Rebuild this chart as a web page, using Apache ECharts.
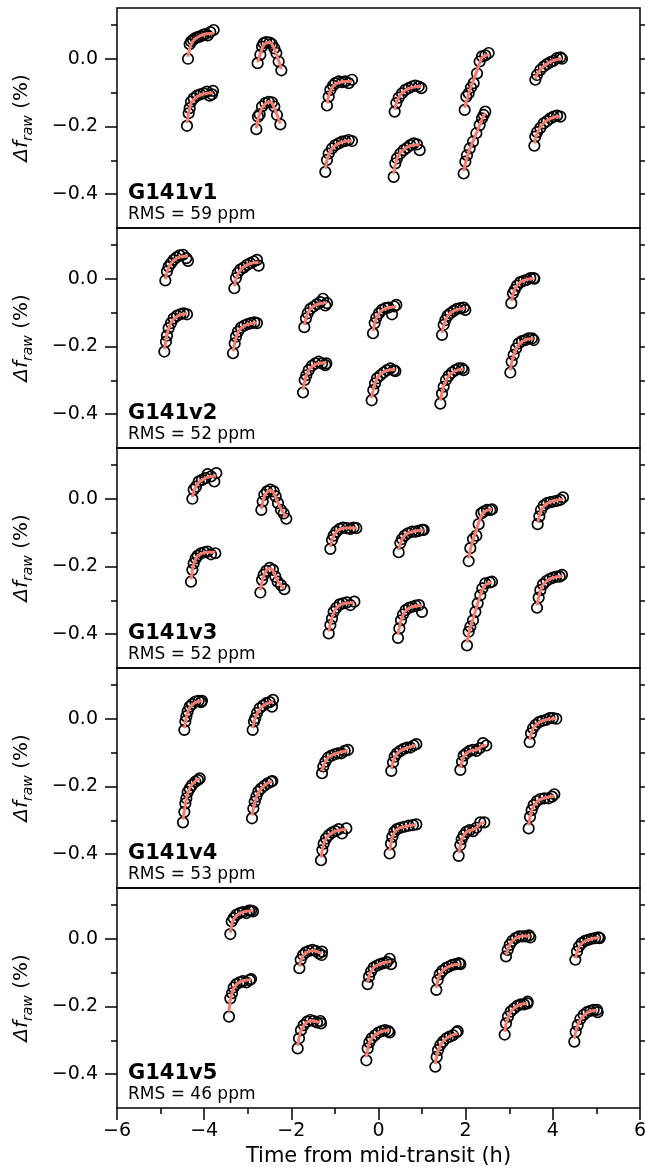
<!DOCTYPE html>
<html>
<head>
<meta charset="utf-8">
<script src="https://cdn.jsdelivr.net/npm/echarts@6/dist/echarts.min.js"></script>
<style>
  html, body { margin: 0; padding: 0; background: #fff; }
  #chart { width: 645px; height: 1167px; }
</style>
</head>
<body>
<div id="chart"></div>
<script>
// White-light raw flux, five G141 visits; two scan directions per visit,
// each HST orbit listed as one array of times (h), raw flux (%) and fitted model (%).

const panelNames = ['G141v1', 'G141v2', 'G141v3', 'G141v4', 'G141v5'];
const rmsPpm = [59, 52, 52, 53, 46];
const yMajorTicks = [-0.4, -0.2, 0.0];
const yMinorTicks = [-0.3, -0.1, 0.1];

const v1Time = [
  [-4.371,-4.333,-4.302,-4.256,-4.203,-4.149,-4.088,-4.027,-3.973,-3.920,-3.859,-3.782],
  [-4.394,-4.356,-4.333,-4.302,-4.241,-4.164,-4.088,-4.011,-3.935,-3.874,-3.820,-3.797],
  [-2.773,-2.711,-2.673,-2.635,-2.574,-2.497,-2.444,-2.390,-2.344,-2.291,-2.229],
  [-2.803,-2.765,-2.727,-2.673,-2.597,-2.520,-2.444,-2.390,-2.329,-2.252],
  [-1.182,-1.143,-1.105,-1.044,-0.990,-0.914,-0.837,-0.761,-0.685,-0.608],
  [-1.220,-1.182,-1.143,-1.067,-0.990,-0.914,-0.837,-0.761,-0.685,-0.608],
  [0.371,0.409,0.463,0.539,0.616,0.692,0.769,0.845,0.922,0.983],
  [0.348,0.386,0.424,0.501,0.577,0.654,0.730,0.807,0.883,0.945],
  [1.977,2.015,2.069,2.122,2.183,2.260,2.321,2.375,2.451,2.528],
  [1.954,1.992,2.030,2.092,2.168,2.245,2.321,2.375,2.413,2.451],
  [3.598,3.637,3.713,3.790,3.866,3.943,4.019,4.096,4.172,4.210],
  [3.576,3.598,3.637,3.713,3.790,3.866,3.943,4.019,4.096,4.172]
];
const v1Flux = [
  [0.000,0.043,0.051,0.056,0.061,0.064,0.066,0.071,0.073,0.069,0.079,0.085],
  [-0.198,-0.161,-0.146,-0.127,-0.117,-0.109,-0.105,-0.102,-0.097,-0.109,-0.105,-0.095],
  [-0.013,0.012,0.036,0.046,0.049,0.048,0.043,0.031,0.017,-0.008,-0.034],
  [-0.208,-0.171,-0.164,-0.141,-0.131,-0.127,-0.129,-0.141,-0.166,-0.194],
  [-0.138,-0.112,-0.092,-0.079,-0.072,-0.067,-0.069,-0.067,-0.072,-0.062],
  [-0.334,-0.299,-0.280,-0.265,-0.255,-0.250,-0.245,-0.243,-0.240,-0.243],
  [-0.156,-0.131,-0.115,-0.102,-0.092,-0.087,-0.082,-0.079,-0.082,-0.087],
  [-0.349,-0.309,-0.294,-0.280,-0.270,-0.263,-0.255,-0.250,-0.253,-0.270],
  [-0.151,-0.112,-0.102,-0.085,-0.072,-0.043,-0.008,0.007,0.010,0.017],
  [-0.339,-0.304,-0.285,-0.265,-0.245,-0.220,-0.196,-0.176,-0.166,-0.156],
  [-0.062,-0.048,-0.033,-0.023,-0.016,-0.010,-0.006,0.002,0.004,0.000],
  [-0.257,-0.230,-0.217,-0.204,-0.191,-0.184,-0.176,-0.171,-0.168,-0.171]
];
const v1Model = [
  [0.006,0.030,0.042,0.052,0.059,0.064,0.068,0.071,0.073,0.074,0.075,0.076],
  [-0.190,-0.160,-0.146,-0.132,-0.120,-0.112,-0.107,-0.104,-0.102,-0.101,-0.101,-0.101],
  [-0.010,0.015,0.030,0.040,0.047,0.049,0.044,0.030,0.014,-0.006,-0.030],
  [-0.205,-0.180,-0.162,-0.145,-0.133,-0.127,-0.130,-0.145,-0.165,-0.192],
  [-0.132,-0.110,-0.095,-0.082,-0.075,-0.070,-0.068,-0.067,-0.067,-0.067],
  [-0.325,-0.300,-0.283,-0.265,-0.256,-0.250,-0.246,-0.244,-0.243,-0.242],
  [-0.150,-0.130,-0.114,-0.101,-0.093,-0.088,-0.085,-0.083,-0.082,-0.082],
  [-0.340,-0.312,-0.295,-0.278,-0.268,-0.261,-0.257,-0.255,-0.254,-0.254],
  [-0.145,-0.125,-0.103,-0.083,-0.062,-0.035,-0.012,0.004,0.010,0.012],
  [-0.332,-0.310,-0.292,-0.268,-0.244,-0.220,-0.196,-0.180,-0.169,-0.160],
  [-0.060,-0.046,-0.032,-0.022,-0.015,-0.009,-0.005,-0.002,0.000,0.001],
  [-0.250,-0.236,-0.220,-0.202,-0.190,-0.182,-0.177,-0.173,-0.171,-0.170]
];

const v2Time = [
  [-4.891,-4.853,-4.815,-4.761,-4.700,-4.639,-4.562,-4.486,-4.409,-4.371],
  [-4.914,-4.876,-4.853,-4.815,-4.761,-4.700,-4.623,-4.547,-4.470,-4.394],
  [-3.308,-3.270,-3.231,-3.170,-3.094,-3.017,-2.941,-2.864,-2.788,-2.750],
  [-3.338,-3.300,-3.270,-3.224,-3.155,-3.078,-3.002,-2.925,-2.849,-2.788],
  [-1.702,-1.664,-1.625,-1.564,-1.488,-1.411,-1.335,-1.273,-1.220,-1.182],
  [-1.732,-1.694,-1.656,-1.602,-1.526,-1.449,-1.373,-1.296,-1.220,-1.197],
  [-0.126,-0.088,-0.050,0.011,0.080,0.157,0.233,0.310,0.363,0.409],
  [-0.157,-0.119,-0.080,-0.034,0.042,0.119,0.195,0.272,0.348,0.386],
  [1.457,1.495,1.534,1.587,1.648,1.725,1.801,1.878,1.954,1.992],
  [1.419,1.457,1.495,1.549,1.610,1.686,1.763,1.839,1.916,1.954],
  [3.048,3.086,3.124,3.178,3.254,3.331,3.407,3.484,3.560,3.576],
  [3.025,3.055,3.101,3.155,3.216,3.292,3.369,3.445,3.522,3.560]
];
const v2Flux = [
  [-0.005,0.022,0.036,0.046,0.056,0.063,0.069,0.071,0.061,0.053],
  [-0.215,-0.186,-0.168,-0.146,-0.131,-0.117,-0.109,-0.105,-0.102,-0.105],
  [-0.028,0.002,0.017,0.027,0.033,0.041,0.046,0.051,0.056,0.039],
  [-0.220,-0.191,-0.171,-0.156,-0.144,-0.138,-0.134,-0.131,-0.129,-0.131],
  [-0.143,-0.117,-0.102,-0.089,-0.082,-0.075,-0.069,-0.059,-0.079,-0.072],
  [-0.336,-0.299,-0.285,-0.270,-0.257,-0.250,-0.245,-0.250,-0.255,-0.250],
  [-0.161,-0.131,-0.115,-0.102,-0.092,-0.087,-0.085,-0.105,-0.082,-0.077],
  [-0.359,-0.329,-0.309,-0.294,-0.285,-0.277,-0.270,-0.265,-0.270,-0.273],
  [-0.166,-0.136,-0.122,-0.109,-0.102,-0.095,-0.089,-0.087,-0.085,-0.092],
  [-0.369,-0.339,-0.319,-0.299,-0.287,-0.277,-0.270,-0.265,-0.265,-0.270],
  [-0.072,-0.043,-0.033,-0.020,-0.010,-0.006,-0.003,0.002,0.002,0.000],
  [-0.277,-0.245,-0.225,-0.206,-0.191,-0.184,-0.181,-0.176,-0.176,-0.181]
];
const v2Model = [
  [-0.002,0.020,0.034,0.046,0.054,0.060,0.064,0.066,0.067,0.067],
  [-0.208,-0.180,-0.165,-0.147,-0.130,-0.119,-0.111,-0.106,-0.104,-0.103],
  [-0.022,0.000,0.013,0.026,0.035,0.041,0.045,0.047,0.048,0.048],
  [-0.214,-0.190,-0.174,-0.158,-0.146,-0.139,-0.135,-0.132,-0.131,-0.130],
  [-0.137,-0.116,-0.102,-0.090,-0.081,-0.076,-0.073,-0.072,-0.071,-0.071],
  [-0.328,-0.302,-0.285,-0.270,-0.259,-0.253,-0.250,-0.249,-0.248,-0.248],
  [-0.155,-0.132,-0.116,-0.102,-0.093,-0.088,-0.085,-0.084,-0.083,-0.083],
  [-0.352,-0.326,-0.308,-0.294,-0.282,-0.275,-0.271,-0.269,-0.268,-0.268],
  [-0.160,-0.138,-0.123,-0.110,-0.101,-0.095,-0.091,-0.089,-0.088,-0.088],
  [-0.360,-0.336,-0.318,-0.300,-0.287,-0.278,-0.272,-0.269,-0.267,-0.267],
  [-0.066,-0.046,-0.032,-0.020,-0.010,-0.005,-0.002,0.000,0.001,0.001],
  [-0.270,-0.248,-0.226,-0.207,-0.194,-0.186,-0.181,-0.178,-0.177,-0.177]
];

const v3Time = [
  [-4.271,-4.241,-4.187,-4.126,-4.050,-3.973,-3.920,-3.843,-3.767,-3.721],
  [-4.302,-4.271,-4.241,-4.195,-4.149,-4.073,-3.996,-3.920,-3.843,-3.744],
  [-2.688,-2.658,-2.620,-2.558,-2.482,-2.405,-2.359,-2.306,-2.237,-2.176,-2.115],
  [-2.711,-2.673,-2.635,-2.574,-2.497,-2.421,-2.367,-2.314,-2.237,-2.161],
  [-1.105,-1.067,-1.029,-0.968,-0.891,-0.815,-0.723,-0.646,-0.570,-0.509],
  [-1.143,-1.105,-1.067,-1.029,-0.968,-0.891,-0.815,-0.723,-0.646,-0.554],
  [0.463,0.501,0.539,0.600,0.677,0.769,0.845,0.922,0.998,1.036],
  [0.447,0.478,0.516,0.562,0.623,0.700,0.776,0.853,0.929,0.998],
  [2.069,2.107,2.168,2.245,2.298,2.359,2.413,2.489,2.566,2.604],
  [2.030,2.069,2.107,2.168,2.222,2.275,2.336,2.382,2.451,2.551,2.604],
  [3.652,3.690,3.729,3.790,3.866,3.943,4.019,4.096,4.172,4.233],
  [3.637,3.675,3.713,3.774,3.851,3.927,4.004,4.080,4.157,4.210]
];
const v3Flux = [
  [0.000,0.027,0.036,0.051,0.056,0.061,0.073,0.066,0.051,0.076],
  [-0.245,-0.210,-0.191,-0.176,-0.168,-0.161,-0.158,-0.156,-0.164,-0.161],
  [-0.033,-0.008,0.012,0.022,0.027,0.022,0.007,-0.013,-0.033,-0.043,-0.059],
  [-0.277,-0.240,-0.225,-0.213,-0.204,-0.210,-0.230,-0.245,-0.255,-0.267],
  [-0.148,-0.122,-0.109,-0.097,-0.089,-0.085,-0.087,-0.089,-0.085,-0.087],
  [-0.398,-0.373,-0.354,-0.334,-0.322,-0.312,-0.309,-0.306,-0.314,-0.304],
  [-0.158,-0.131,-0.119,-0.109,-0.102,-0.097,-0.097,-0.095,-0.092,-0.092],
  [-0.411,-0.383,-0.359,-0.342,-0.329,-0.322,-0.319,-0.316,-0.314,-0.334],
  [-0.184,-0.146,-0.119,-0.109,-0.075,-0.043,-0.038,-0.033,-0.033,-0.031],
  [-0.433,-0.393,-0.378,-0.359,-0.334,-0.309,-0.285,-0.265,-0.250,-0.247,-0.245],
  [-0.075,-0.052,-0.033,-0.020,-0.013,-0.010,-0.008,-0.006,-0.003,0.004],
  [-0.322,-0.292,-0.270,-0.253,-0.243,-0.237,-0.233,-0.230,-0.230,-0.225]
];
const v3Model = [
  [0.005,0.022,0.037,0.048,0.056,0.061,0.064,0.066,0.067,0.067],
  [-0.238,-0.212,-0.193,-0.178,-0.169,-0.162,-0.159,-0.158,-0.158,-0.158],
  [-0.030,-0.010,0.008,0.020,0.026,0.018,0.004,-0.012,-0.030,-0.043,-0.055],
  [-0.270,-0.245,-0.227,-0.212,-0.205,-0.212,-0.228,-0.243,-0.256,-0.266],
  [-0.142,-0.122,-0.109,-0.097,-0.090,-0.087,-0.086,-0.086,-0.086,-0.086],
  [-0.392,-0.370,-0.352,-0.337,-0.323,-0.314,-0.310,-0.308,-0.307,-0.307],
  [-0.152,-0.132,-0.119,-0.108,-0.101,-0.097,-0.095,-0.094,-0.093,-0.093],
  [-0.402,-0.380,-0.360,-0.344,-0.331,-0.323,-0.319,-0.317,-0.316,-0.316],
  [-0.176,-0.150,-0.120,-0.092,-0.070,-0.050,-0.040,-0.034,-0.032,-0.031],
  [-0.425,-0.400,-0.380,-0.355,-0.332,-0.309,-0.285,-0.268,-0.254,-0.248,-0.247],
  [-0.070,-0.050,-0.035,-0.022,-0.014,-0.009,-0.006,-0.004,-0.003,-0.002],
  [-0.315,-0.290,-0.272,-0.255,-0.244,-0.237,-0.233,-0.231,-0.229,-0.229]
];

const v4Time = [
  [-4.455,-4.432,-4.409,-4.379,-4.333,-4.279,-4.203,-4.126,-4.073,-4.050],
  [-4.486,-4.455,-4.432,-4.409,-4.379,-4.333,-4.279,-4.203,-4.142,-4.103],
  [-2.887,-2.857,-2.826,-2.788,-2.727,-2.650,-2.574,-2.497,-2.444,-2.421],
  [-2.903,-2.872,-2.841,-2.803,-2.757,-2.696,-2.620,-2.543,-2.467,-2.436],
  [-1.296,-1.266,-1.220,-1.159,-1.082,-1.006,-0.929,-0.853,-0.776,-0.700],
  [-1.319,-1.289,-1.258,-1.205,-1.143,-1.067,-0.990,-0.914,-0.837,-0.738],
  [0.294,0.333,0.371,0.424,0.501,0.577,0.654,0.730,0.807,0.868],
  [0.256,0.287,0.317,0.363,0.424,0.501,0.593,0.692,0.791,0.868],
  [1.878,1.916,1.954,2.015,2.092,2.168,2.245,2.321,2.398,2.474],
  [1.839,1.878,1.908,1.954,2.015,2.092,2.168,2.245,2.336,2.428],
  [3.468,3.499,3.545,3.606,3.682,3.759,3.851,3.927,4.004,4.080],
  [3.445,3.476,3.514,3.560,3.637,3.713,3.805,3.904,3.981,4.034]
];
const v4Flux = [
  [-0.033,-0.008,0.007,0.022,0.036,0.043,0.051,0.053,0.049,0.053],
  [-0.306,-0.275,-0.250,-0.235,-0.217,-0.206,-0.196,-0.186,-0.181,-0.176],
  [-0.033,-0.008,0.002,0.017,0.031,0.039,0.046,0.049,0.036,0.056],
  [-0.294,-0.265,-0.245,-0.230,-0.215,-0.206,-0.198,-0.191,-0.186,-0.184],
  [-0.161,-0.141,-0.127,-0.115,-0.109,-0.105,-0.102,-0.102,-0.095,-0.092],
  [-0.418,-0.388,-0.369,-0.354,-0.344,-0.336,-0.332,-0.326,-0.339,-0.324],
  [-0.154,-0.129,-0.112,-0.102,-0.095,-0.089,-0.085,-0.085,-0.079,-0.075],
  [-0.398,-0.369,-0.349,-0.334,-0.326,-0.322,-0.319,-0.316,-0.314,-0.312],
  [-0.151,-0.127,-0.109,-0.102,-0.095,-0.092,-0.095,-0.087,-0.072,-0.079],
  [-0.405,-0.373,-0.356,-0.344,-0.334,-0.329,-0.332,-0.322,-0.306,-0.306],
  [-0.069,-0.043,-0.028,-0.018,-0.010,-0.006,-0.003,0.002,0.002,0.000],
  [-0.324,-0.290,-0.270,-0.255,-0.243,-0.237,-0.235,-0.235,-0.230,-0.223]
];
const v4Model = [
  [-0.028,-0.010,0.005,0.019,0.032,0.041,0.048,0.052,0.053,0.054],
  [-0.298,-0.272,-0.253,-0.237,-0.221,-0.205,-0.194,-0.184,-0.179,-0.177],
  [-0.028,-0.010,0.003,0.015,0.028,0.038,0.044,0.048,0.050,0.050],
  [-0.286,-0.265,-0.248,-0.232,-0.219,-0.207,-0.197,-0.190,-0.186,-0.185],
  [-0.155,-0.140,-0.126,-0.115,-0.108,-0.104,-0.101,-0.098,-0.096,-0.094],
  [-0.410,-0.388,-0.370,-0.355,-0.344,-0.337,-0.332,-0.330,-0.328,-0.327],
  [-0.148,-0.128,-0.114,-0.103,-0.095,-0.090,-0.086,-0.083,-0.080,-0.078],
  [-0.390,-0.368,-0.350,-0.336,-0.327,-0.322,-0.319,-0.316,-0.314,-0.313],
  [-0.145,-0.126,-0.112,-0.102,-0.096,-0.093,-0.092,-0.086,-0.078,-0.080],
  [-0.396,-0.374,-0.358,-0.345,-0.335,-0.330,-0.328,-0.322,-0.310,-0.306],
  [-0.062,-0.045,-0.030,-0.019,-0.011,-0.006,-0.003,-0.001,0.000,0.001],
  [-0.315,-0.290,-0.272,-0.258,-0.245,-0.238,-0.234,-0.231,-0.229,-0.228]
];

const v5Time = [
  [-3.400,-3.369,-3.323,-3.262,-3.185,-3.109,-3.033,-2.971,-2.925,-2.880],
  [-3.430,-3.400,-3.361,-3.323,-3.262,-3.185,-3.109,-3.033,-2.956,-2.925],
  [-1.816,-1.786,-1.732,-1.671,-1.595,-1.518,-1.442,-1.365,-1.304,-1.296],
  [-1.855,-1.824,-1.778,-1.717,-1.641,-1.564,-1.488,-1.411,-1.335,-1.319],
  [-0.249,-0.218,-0.172,-0.111,-0.034,0.042,0.119,0.195,0.256,0.287],
  [-0.279,-0.249,-0.211,-0.157,-0.080,-0.004,0.073,0.149,0.226,0.256],
  [1.327,1.357,1.403,1.465,1.541,1.618,1.694,1.771,1.847,1.878],
  [1.304,1.335,1.365,1.419,1.480,1.557,1.633,1.709,1.786,1.816],
  [2.925,2.964,3.010,3.071,3.147,3.224,3.300,3.377,3.453,3.484],
  [2.895,2.925,2.971,3.033,3.109,3.185,3.262,3.338,3.415,3.423],
  [4.516,4.554,4.600,4.662,4.738,4.815,4.891,4.968,5.044,5.075],
  [4.493,4.524,4.570,4.631,4.707,4.784,4.860,4.937,5.013,5.029]
];
const v5Flux = [
  [0.014,0.051,0.061,0.071,0.076,0.079,0.076,0.083,0.083,0.081],
  [-0.230,-0.176,-0.161,-0.144,-0.134,-0.129,-0.125,-0.129,-0.122,-0.119],
  [-0.087,-0.062,-0.048,-0.040,-0.036,-0.033,-0.036,-0.043,-0.048,-0.038],
  [-0.324,-0.294,-0.270,-0.255,-0.245,-0.240,-0.243,-0.247,-0.243,-0.250],
  [-0.134,-0.112,-0.097,-0.085,-0.079,-0.075,-0.072,-0.069,-0.059,-0.075],
  [-0.359,-0.324,-0.306,-0.294,-0.285,-0.277,-0.273,-0.270,-0.273,-0.277],
  [-0.151,-0.122,-0.105,-0.095,-0.087,-0.082,-0.077,-0.075,-0.072,-0.075],
  [-0.378,-0.349,-0.329,-0.314,-0.304,-0.294,-0.289,-0.285,-0.277,-0.273],
  [-0.052,-0.033,-0.018,-0.006,0.002,0.007,0.007,0.007,0.010,0.004],
  [-0.283,-0.250,-0.230,-0.215,-0.206,-0.198,-0.194,-0.194,-0.191,-0.186],
  [-0.062,-0.038,-0.023,-0.013,-0.006,-0.003,0.000,0.002,0.004,0.002],
  [-0.304,-0.275,-0.255,-0.237,-0.225,-0.217,-0.213,-0.210,-0.210,-0.217]
];
const v5Model = [
  [0.018,0.042,0.058,0.068,0.075,0.079,0.081,0.082,0.083,0.083],
  [-0.215,-0.180,-0.160,-0.146,-0.135,-0.128,-0.124,-0.122,-0.121,-0.120],
  [-0.082,-0.064,-0.050,-0.042,-0.037,-0.035,-0.036,-0.040,-0.043,-0.043],
  [-0.316,-0.292,-0.271,-0.256,-0.246,-0.242,-0.243,-0.245,-0.246,-0.246],
  [-0.128,-0.110,-0.096,-0.085,-0.078,-0.074,-0.071,-0.069,-0.068,-0.068],
  [-0.350,-0.326,-0.308,-0.294,-0.284,-0.278,-0.274,-0.272,-0.271,-0.271],
  [-0.145,-0.124,-0.107,-0.095,-0.087,-0.082,-0.078,-0.076,-0.075,-0.075],
  [-0.370,-0.348,-0.331,-0.315,-0.303,-0.294,-0.288,-0.284,-0.281,-0.280],
  [-0.048,-0.032,-0.018,-0.006,0.002,0.006,0.008,0.008,0.008,0.008],
  [-0.275,-0.252,-0.232,-0.216,-0.205,-0.198,-0.194,-0.192,-0.191,-0.191],
  [-0.058,-0.040,-0.025,-0.014,-0.007,-0.003,0.000,0.002,0.003,0.003],
  [-0.295,-0.275,-0.255,-0.239,-0.227,-0.219,-0.214,-0.212,-0.211,-0.211]
];

const visitTimes = [v1Time, v2Time, v3Time, v4Time, v5Time];
const visitFlux = [v1Flux, v2Flux, v3Flux, v4Flux, v5Flux];
const visitModel = [v1Model, v2Model, v3Model, v4Model, v5Model];

// ---- layout ----
const FONT = 'DejaVu Sans';
const LEFT = 117, RIGHT = 5, TOP = 8, PANEL_H = 220;
const MODEL_COLOR = '#f47c6e';
const TICK_STYLE = { color: '#000', width: 1.5 };

function minusFix(s) { return s.replace('-', '\u2212'); }
function yFmt(v) { return Math.abs(v) < 1e-9 ? '0.0' : minusFix(v.toFixed(1)); }

const grids = [], xAxes = [], yAxes = [], series = [], graphics = [];

panelNames.forEach((name, i) => {
  const top = TOP + i * PANEL_H;
  const last = i === panelNames.length - 1;
  grids.push({
    left: LEFT, right: RIGHT, top: top, height: PANEL_H,
    outerBoundsMode: 'none',
    show: true, borderColor: '#000', borderWidth: 1.5, backgroundColor: 'transparent'
  });

  xAxes.push({
    gridIndex: i, type: 'value', min: -6, max: 6, interval: 2, position: 'bottom',
    axisLine: { show: false, onZero: false },
    splitLine: { show: false },
    axisTick: { show: last, length: 12, lineStyle: TICK_STYLE },
    minorTick: { show: last, splitNumber: 2, length: 6, lineStyle: TICK_STYLE },
    minorSplitLine: { show: false },
    axisLabel: {
      show: last, margin: 14, color: '#000', fontSize: 19, fontFamily: FONT,
      formatter: v => minusFix(String(v))
    },
    name: last ? 'Time from mid-transit (h)' : '',
    nameLocation: 'middle', nameGap: 38,
    nameTextStyle: { color: '#000', fontSize: 21, fontFamily: FONT }
  });

  const base = {
    gridIndex: i, type: 'value', min: -0.5, max: 0.15,
    axisLine: { show: false, onZero: false }, splitLine: { show: false }
  };
  // left: major ticks with labels, then minor ticks
  yAxes.push(Object.assign({}, base, {
    position: 'left',
    axisTick: { show: true, customValues: yMajorTicks, length: 12, lineStyle: TICK_STYLE },
    axisLabel: { show: true, customValues: yMajorTicks, formatter: yFmt, margin: 19,
      color: '#000', fontSize: 19, fontFamily: FONT },
    name: '{i|\u0394f}{s|raw}{n| (%)}',
    nameLocation: 'middle', nameRotate: 90, nameGap: 82,
    nameTextStyle: {
      color: '#000', fontFamily: FONT, fontSize: 20,
      rich: {
        i: { fontStyle: 'italic', fontSize: 20, fontFamily: FONT, color: '#000' },
        s: { fontStyle: 'italic', fontSize: 14, fontFamily: FONT, color: '#000', padding: [12, 0, 0, 0] },
        n: { fontSize: 20, fontFamily: FONT, color: '#000' }
      }
    }
  }));
  yAxes.push(Object.assign({}, base, {
    position: 'left',
    axisTick: { show: true, customValues: yMinorTicks, length: 6, lineStyle: TICK_STYLE },
    axisLabel: { show: false }
  }));
  // right: mirrored ticks without labels
  yAxes.push(Object.assign({}, base, {
    position: 'right',
    axisTick: { show: true, customValues: yMajorTicks, length: 12, lineStyle: TICK_STYLE },
    axisLabel: { show: false }
  }));
  yAxes.push(Object.assign({}, base, {
    position: 'right',
    axisTick: { show: true, customValues: yMinorTicks, length: 6, lineStyle: TICK_STYLE },
    axisLabel: { show: false }
  }));

  const times = visitTimes[i], flux = visitFlux[i], model = visitModel[i];
  const points = [];
  times.forEach((orbit, o) => orbit.forEach((t, k) => points.push([t, flux[o][k]])));
  // open circles for the measured flux
  series.push({
    type: 'scatter', xAxisIndex: i, yAxisIndex: 4 * i, data: points,
    symbol: 'circle', symbolSize: 10.5, z: 2, silent: true,
    itemStyle: { color: 'rgba(255,255,255,0)', borderColor: '#000', borderWidth: 1.7, opacity: 1 }
  });
  // fitted systematics model, one line per orbit
  times.forEach((orbit, o) => {
    series.push({
      type: 'line', xAxisIndex: i, yAxisIndex: 4 * i,
      data: orbit.map((t, k) => [t, model[o][k]]),
      showSymbol: false, symbol: 'none', z: 3, silent: true,
      lineStyle: { color: MODEL_COLOR, width: 3 }
    });
  });

  graphics.push({
    type: 'text', left: LEFT + 11, top: top + PANEL_H - 45,
    style: { text: name, fill: '#000', font: 'bold 21px "DejaVu Sans"' }
  });
  graphics.push({
    type: 'text', left: LEFT + 11, top: top + PANEL_H - 22,
    style: { text: 'RMS = ' + rmsPpm[i] + ' ppm', fill: '#000', font: '17px "DejaVu Sans"' }
  });
});

const chart = echarts.init(document.getElementById('chart'), null, { renderer: 'canvas' });
chart.setOption({
  animation: false,
  backgroundColor: '#fff',
  grid: grids,
  xAxis: xAxes,
  yAxis: yAxes,
  series: series,
  graphic: graphics
});
</script>
</body>
</html>
